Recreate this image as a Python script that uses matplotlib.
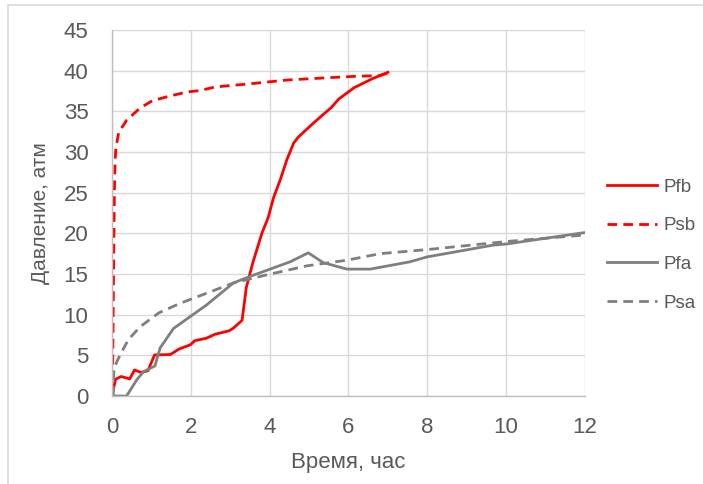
import matplotlib
matplotlib.use("Agg")
import matplotlib.pyplot as plt
from matplotlib.patches import Rectangle

plt.rcParams['font.family'] = ['Liberation Sans', 'DejaVu Sans']

# Pfb (red solid)
pfb_t = [0, 0.09, 0.23, 0.45, 0.57, 0.74, 0.91, 1.08, 1.48, 1.71, 1.99, 2.1, 2.39, 2.62, 2.96, 3.07,
         3.3, 3.41, 3.58, 3.81, 3.96, 4.1, 4.27, 4.44, 4.61, 4.72, 5.12, 5.57, 5.75, 6.14, 6.6, 7.0]
pfb_v = [0, 2.05, 2.4, 2.1, 3.2, 2.9, 3.1, 5.05, 5.1, 5.8, 6.3, 6.8, 7.1, 7.6, 8.0, 8.3,
         9.3, 13.4, 16.5, 20.1, 21.9, 24.4, 26.6, 29.1, 31.1, 31.8, 33.6, 35.5, 36.5, 37.9, 39.0, 39.8]

# Psb (red dashed)
psb_t = [0, 0.02, 0.04, 0.06, 0.08, 0.1, 0.17, 0.37, 0.71, 1.02, 1.48, 1.93, 2.23, 2.62, 3.53, 3.93,
         4.44, 5.35, 6.14, 6.8, 7.0]
psb_v = [0, 5, 15, 25, 29, 30.5, 32.4, 33.9, 35.4, 36.3, 36.9, 37.4, 37.55, 38.0, 38.4, 38.6,
         38.85, 39.1, 39.3, 39.4, 39.7]

# Pfa (gray solid)
pfa_t = [0, 0.37, 0.63, 0.8, 1.09, 1.22, 1.56, 1.98, 2.4, 3.08, 3.5, 3.84, 4.52, 4.98, 5.36, 5.96,
         6.55, 7.56, 7.99, 9.67, 10.02, 12.0]
pfa_v = [0, 0, 2.0, 3.0, 3.7, 5.9, 8.3, 9.75, 11.2, 13.9, 14.7, 15.3, 16.5, 17.6, 16.4, 15.6,
         15.6, 16.5, 17.1, 18.55, 18.7, 20.1]

# Psa (gray dashed)
psa_t = [0.03, 0.05, 0.16, 0.41, 0.71, 1.18, 1.73, 2.49, 3.08, 3.93, 4.94, 5.96, 6.8, 7.99, 10.02, 12.0]
psa_v = [0, 3.4, 4.6, 6.9, 8.5, 10.2, 11.4, 12.8, 13.9, 14.9, 16.0, 16.7, 17.5, 18.0, 19.0, 19.8]

labels = ['Pfb', 'Psb', 'Pfa', 'Psa']

fig = plt.figure(figsize=(7.03, 4.84), dpi=100)
fig.patches.append(Rectangle((0.012, -0.05), 1.1, 1.04, transform=fig.transFigure,
                             fill=False, edgecolor='#d9d9d9', linewidth=1.2))
ax = fig.add_axes([0.1593, 0.1818, 0.6728, 0.7562])

red = '#ff0000'
gray = '#7f7f7f'
ax.plot(pfb_t, pfb_v, color=red, lw=2.0, label=labels[0])
ax.plot(psb_t, psb_v, color=red, lw=2.0, ls=(0, (3.5, 2.2)), label=labels[1])
ax.plot(pfa_t, pfa_v, color=gray, lw=2.0, label=labels[2])
ax.plot(psa_t, psa_v, color=gray, lw=2.0, ls=(0, (3.5, 2.2)), label=labels[3])

ax.set_xlim(0, 12)
ax.set_ylim(0, 45)
ax.set_xticks(range(0, 13, 2))
ax.set_yticks(range(0, 46, 5))
ax.grid(True, color='#d9d9d9', lw=1.0)
ax.set_axisbelow(True)
for s in ['top', 'right']:
    ax.spines[s].set_visible(False)
for s in ['left', 'bottom']:
    ax.spines[s].set_color('#bfbfbf')
    ax.spines[s].set_linewidth(1.0)
ax.tick_params(length=0, labelsize=16, colors='#595959')
ax.tick_params(axis='y', pad=17)
ax.tick_params(axis='x', pad=15)
ax.set_xlabel('Время, час', fontsize=16, color='#595959', labelpad=10)
ax.set_ylabel('Давление, атм', fontsize=15, color='#595959', labelpad=10)

leg = ax.legend(loc='center left', bbox_to_anchor=(607 / 703, 1 - 245 / 484),
                bbox_transform=fig.transFigure, frameon=False, fontsize=13.5,
                handlelength=2.67, labelspacing=1.15, handletextpad=0.32,
                borderaxespad=0, borderpad=0)
for t in leg.get_texts():
    t.set_color('#595959')

fig.savefig('out.png', dpi=100)
